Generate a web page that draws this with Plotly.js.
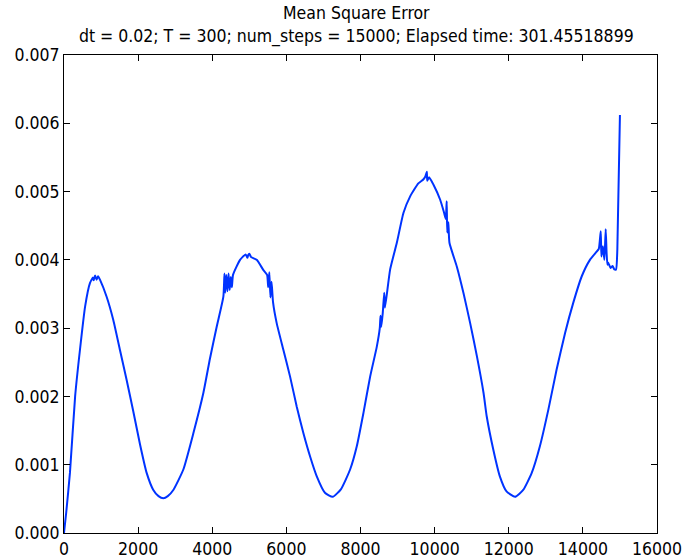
<!DOCTYPE html>
<html>
<head>
<meta charset="utf-8">
<script src="https://cdn.plot.ly/plotly-3.0.1.min.js"></script>
<style>html,body{margin:0;padding:0;background:#fff;}#chart{width:700px;height:560px;}</style>
</head>
<body>
<div id="chart"></div>
<script>
const steps = [
  0, 60, 160, 300, 430, 570, 700, 780, 800, 840, 880, 920, 970,
  1150, 1330, 1510, 1690, 1870, 2050, 2230, 2410, 2550, 2680, 2800, 2950,
  3220, 3490, 3760, 3940, 4120, 4300,
  4330, 4350, 4380, 4410, 4440, 4470, 4500, 4530, 4560,
  4750, 4900, 4950, 4970, 5000, 5050, 5200, 5380,
  5480, 5510, 5540, 5570, 5600, 5640,
  5740, 5920, 6100, 6280, 6460, 6640, 6820, 7040, 7250, 7470, 7720,
  7900, 8080, 8260, 8440,
  8520, 8540, 8560, 8600, 8640, 8660,
  8800, 8980, 9160, 9340, 9560, 9700, 9750, 9790, 9800, 9850, 9970, 10150,
  10250, 10300, 10326, 10340, 10370, 10400,
  10600, 10780, 10960, 11140, 11320, 11405, 11584, 11760, 11940, 12170,
  12390, 12620, 12840, 13070, 13290, 13520, 13740, 13970, 14190, 14370,
  14430, 14482, 14500, 14540, 14580, 14616, 14640, 14662, 14680,
  14750, 14800, 14850, 14895, 14930, 15000
];
const mse = [
  0.00000, 0.00030, 0.00088, 0.00200, 0.00268, 0.00332, 0.00366, 0.00374, 0.00370, 0.00377, 0.00371, 0.00376, 0.00371,
  0.00346, 0.00312, 0.00268, 0.00224, 0.00178, 0.00130, 0.00088, 0.00063, 0.00054, 0.00051, 0.00054, 0.00063,
  0.00093, 0.00146, 0.00205, 0.00256, 0.00302, 0.00346,
  0.00380, 0.00352, 0.00378, 0.00354, 0.00380, 0.00356, 0.00375, 0.00360, 0.00378,
  0.00400, 0.00408, 0.00403, 0.00407, 0.00409, 0.00404, 0.00400, 0.00385,
  0.00378, 0.00360, 0.00382, 0.00345, 0.00368, 0.00338,
  0.00307, 0.00268, 0.00229, 0.00185, 0.00146, 0.00112, 0.00083, 0.00059, 0.00053, 0.00064, 0.00093,
  0.00127, 0.00176, 0.00229, 0.00273,
  0.00300, 0.00318, 0.00302, 0.00322, 0.00352, 0.00330,
  0.00386, 0.00425, 0.00469, 0.00493, 0.00512, 0.00518, 0.00522, 0.00529, 0.00516, 0.00521, 0.00510, 0.00488,
  0.00470, 0.00460, 0.00486, 0.00440, 0.00455, 0.00425,
  0.00390, 0.00351, 0.00307, 0.00259, 0.00205, 0.00171, 0.00122, 0.00083, 0.00061, 0.00053,
  0.00063, 0.00088, 0.00127, 0.00181, 0.00239, 0.00293, 0.00337, 0.00376, 0.00400, 0.00412,
  0.00416, 0.00442, 0.00405, 0.00420, 0.00400, 0.00445, 0.00410, 0.00393, 0.00396,
  0.00388, 0.00391, 0.00386, 0.00386, 0.00415, 0.00612
];
const titleLines = ["Mean Square Error", "dt = 0.02; T = 300; num_steps = 15000; Elapsed time: 301.45518899"];
const xTicks = [0, 2000, 4000, 6000, 8000, 10000, 12000, 14000, 16000];
const yTicks = [0.000, 0.001, 0.002, 0.003, 0.004, 0.005, 0.006, 0.007];

const FONT = "'DejaVu Sans Condensed', 'Liberation Sans Narrow', 'DejaVu Sans', sans-serif";

const trace = {
  x: steps, y: mse, type: 'scatter', mode: 'lines',
  line: {color: '#0033ff', width: 2, shape: 'spline', smoothing: 0.5},
  hoverinfo: 'skip'
};

const axisCommon = {
  showgrid: false, zeroline: false, showline: true, linecolor: '#000', linewidth: 1,
  mirror: 'ticks', ticks: 'inside', ticklen: 6, tickwidth: 1, tickcolor: '#000',
  tickfont: {family: FONT, size: 17.5, color: '#000'}
};

const layout = {
  width: 700, height: 560,
  paper_bgcolor: '#fff', plot_bgcolor: '#fff',
  margin: {l: 64, r: 43, t: 55, b: 27, pad: 0},
  showlegend: false,
  font: {family: FONT, color: '#000'},
  title: {
    text: titleLines.join('<br>'),
    font: {family: FONT, size: 17.5, color: '#000'},
    xref: 'container', x: 0.509, xanchor: 'center',
    yref: 'container', y: 0.966, yanchor: 'top'
  },
  xaxis: Object.assign({}, axisCommon, {
    range: [0, 16000], tickmode: 'array', tickvals: xTicks,
    ticktext: xTicks.map(String)
  }),
  yaxis: Object.assign({}, axisCommon, {
    range: [0, 0.007], tickmode: 'array', tickvals: yTicks,
    ticktext: yTicks.map(v => v.toFixed(3))
  })
};

Plotly.newPlot('chart', [trace], layout, {displayModeBar: false, staticPlot: true});
</script>
</body>
</html>
